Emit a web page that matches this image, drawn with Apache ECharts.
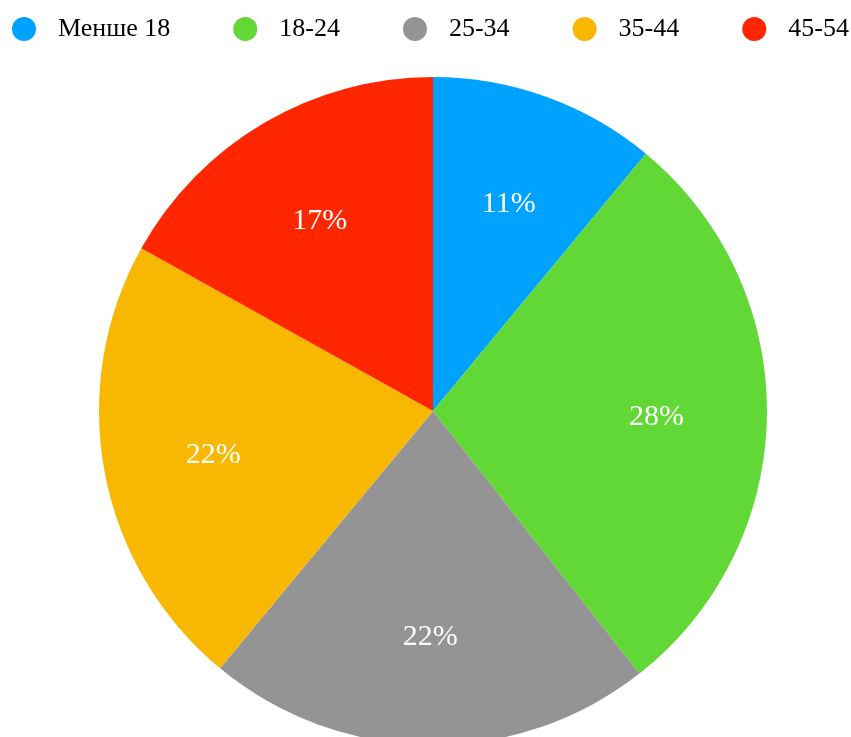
<!DOCTYPE html>
<html>
<head>
<meta charset="utf-8">
<script src="https://cdn.jsdelivr.net/npm/echarts@6/dist/echarts.min.js"></script>
<style>
  html, body { margin: 0; padding: 0; background: #fff; }
  #main { width: 851px; height: 737px; }
</style>
</head>
<body>
<div id="main"></div>
<script>
"use strict";

var categories = ['Менше 18', '18-24', '25-34', '35-44', '45-54'];
var shares = [11, 28.4, 21.6, 22.1, 16.9];
var colors = ['#00a2ff', '#62d836', '#949494', '#f8b700', '#ff2600'];

var pieData = categories.map(function (name, i) {
	return { name: name, value: shares[i] };
});

var chart = echarts.init(document.getElementById('main'));
var option = {
	color: colors,
	animation: false,
	legend: {
		data: categories,
		left: 12,
		top: 16,
		width: 900,
		padding: 0,
		icon: 'circle',
		itemWidth: 24,
		itemHeight: 24,
		itemGap: 63,
		textStyle: {
			fontFamily: 'Liberation Serif',
			fontSize: 26,
			color: '#000',
			padding: [0, 0, 0, 17]
		}
	},
	series: [{
		type: 'pie',
		center: [433, 411],
		radius: 334,
		startAngle: 90,
		clockwise: true,
		label: { show: false },
		labelLine: { show: false },
		emphasis: { disabled: true },
		data: pieData
	}, {
		// transparent ring, only used to place the labels at 2/3 radius
		type: 'pie',
		center: [433, 411],
		radius: [107, 334],
		startAngle: 90,
		clockwise: true,
		silent: true,
		legendHoverLink: false,
		itemStyle: { color: 'rgba(0,0,0,0)' },
		label: {
			show: true,
			position: 'inside',
			offset: [0, 3],
			formatter: function (p) {
				return Math.round(p.value) + '%';
			},
			fontFamily: 'Liberation Serif',
			fontSize: 30,
			color: '#fff'
		},
		labelLine: { show: false },
		emphasis: { disabled: true },
		data: pieData
	}]
};
chart.setOption(option);
</script>
</body>
</html>
